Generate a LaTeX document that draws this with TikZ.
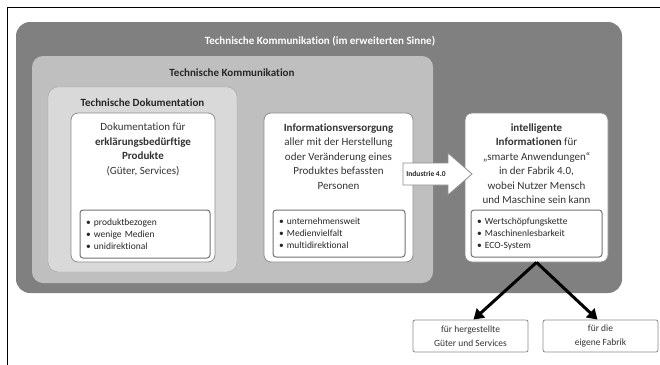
\documentclass[tikz,border=0pt]{standalone}
\usepackage{fontspec}
\setmainfont{Carlito}[Ligatures=NoCommon]
\usepackage{tikz}
\usetikzlibrary{arrows.meta}
\usetikzlibrary{positioning}

\begin{document}
\begin{tikzpicture}[x=1pt,y=-1pt]
	 \tikzstyle{panel}=[rounded corners=14pt,inner sep=0pt]
	 \tikzstyle{whitebox}=[draw=black!45,fill=white,rounded corners=7pt,line width=0.8pt,inner sep=0pt]
	 \tikzstyle{listbox}=[draw=black!55,fill=white,rounded corners=3pt,line width=1pt,inner xsep=6pt,inner ysep=0pt,align=left,font=\fontsize{9.5}{12}\selectfont,text=black!85]
	 \tikzstyle{boxtext}=[align=center,inner sep=0pt,font=\fontsize{11}{14.5}\selectfont,text=black!80]
	 \tikzstyle{title}=[inner sep=0pt,font=\fontsize{11}{13}\selectfont\bfseries]
	 \tikzstyle{target}=[draw=black!45,fill=white,rounded corners=2pt,line width=0.8pt,align=center,inner sep=0pt,font=\fontsize{9.5}{14}\selectfont,text=black!80]
	 \tikzstyle{bigarrow}=[draw,line width=3pt,-{Triangle[length=10pt,width=12pt]},black]
	 \useasboundingbox (0,0) rectangle (660,364);

	 % frame
	 \draw[line width=1pt] (7,366) -- (7,7) -- (662,7);

	 % nested areas
	 \node[panel,fill=black!50,minimum width=606pt,minimum height=271pt] (outer) at (319,157.5) {};
	 \node[title,text=white] (outertitle) at (320,41) {Technische Kommunikation (im erweiterten Sinne)};
	 \node[panel,fill=black!25,rounded corners=11pt,minimum width=401pt,minimum height=227pt] (mid) at (232.5,169.5) {};
	 \node[title,text=black!85] (midtitle) at (232,73) {Technische Kommunikation};
	 \node[panel,fill=black!15,draw=black!35,rounded corners=10pt,minimum width=189pt,minimum height=185pt] (inner) at (142.5,179.5) {};
	 \node[title,text=black!85] (innertitle) at (142.5,103) {Technische Dokumentation};

	 % white boxes
	 \node[whitebox,minimum width=144pt,minimum height=149pt] (doku) at (143,187.5) {};
	 \node[whitebox,minimum width=149pt,minimum height=149pt] (info) at (338.5,187.5) {};
	 \node[whitebox,minimum width=143pt,minimum height=149pt] (smart) at (536.5,187.5) {};

	 \node[boxtext] (dokutext) at (143,149.5) {Dokumentation f\"ur\\\textbf{erkl\"arungsbed\"urftige}\\\textbf{Produkte}\\(G\"uter, Services)};
	 \node[boxtext] (infotext) at (338.5,156.5) {\textbf{Informationsversorgung}\\aller mit der Herstellung\\oder Ver\"anderung eines\\Produktes befassten\\Personen};
	 \node[boxtext] (smarttext) at (536.5,163.5) {\textbf{intelligente}\\\textbf{Informationen} f\"ur\\„smarte Anwendungen“\\in der Fabrik 4.0,\\wobei Nutzer Mensch\\und Maschine sein kann};

	 % lists
	 \node[listbox,text width=118pt,minimum height=48pt] (dokulist) at (145,234) {\textbullet\ produktbezogen\\\textbullet\ wenige Medien\\\textbullet\ unidirektional};
	 \node[listbox,text width=120pt,minimum height=47pt] (infolist) at (339,233.5) {\textbullet\ unternehmensweit\\\textbullet\ Medienvielfalt\\\textbullet\ multidirektional};
	 \node[listbox,text width=119pt,minimum height=47pt] (smartlist) at (536.5,233.5) {\textbullet\ Wertsch\"opfungskette\\\textbullet\ Maschinenlesbarkeit\\\textbullet\ ECO-System};

	 % Industrie 4.0 arrow
	 \draw[draw=black!45,fill=white,line width=0.8pt] (403,163) -- (448,163) -- (448,153) -- (472,174) -- (448,195) -- (448,185) -- (403,185) -- cycle;
	 \node[inner sep=0pt,font=\fontsize{7.5}{9}\selectfont\bfseries,text=black!85] (i40) at (426,174) {Industrie 4.0};

	 % targets
	 \node[target,minimum width=115pt,minimum height=32pt] (goods) at (470.5,336) {f\"ur hergestellte\\G\"uter und Services};
	 \node[target,minimum width=115pt,minimum height=32pt] (factory) at (600.5,336) {f\"ur die\\eigene Fabrik};

	 \draw[bigarrow] (smart.south) -- ([xshift=3pt]goods.north);
	 \draw[bigarrow] (smart.south) -- ([xshift=-3pt]factory.north);

 \end{tikzpicture}
\end{document}
